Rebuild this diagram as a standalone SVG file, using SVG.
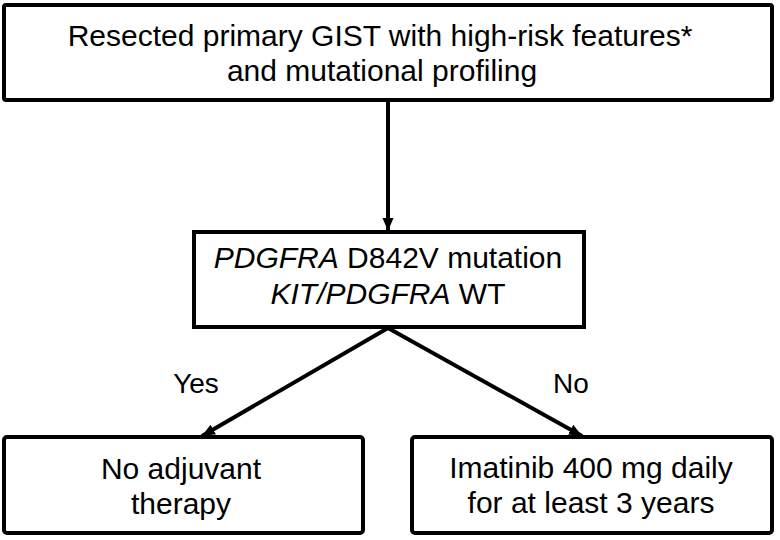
<svg xmlns="http://www.w3.org/2000/svg" width="780" height="540" viewBox="0 0 780 540">
<style>
.box{fill:#fff;stroke:#000;stroke-width:4}
.t{font-family:"Liberation Sans",Arial,sans-serif;font-size:30px;fill:#000;text-anchor:middle}
.i{font-style:italic}
.lbl{font-family:"Liberation Sans",Arial,sans-serif;font-size:28px;fill:#000;text-anchor:middle}
.c{stroke:#000;stroke-width:4;fill:none}
</style>
<defs>
<marker id="ah" markerUnits="userSpaceOnUse" markerWidth="14" markerHeight="14" viewBox="0 0 14 14" refX="13" refY="7" orient="auto">
<path d="M0,1.5 L13,7 L0,12.5 Z" fill="#000"/>
</marker>
</defs>
<rect width="780" height="540" fill="#fff"/>
<g id="connectors">
<line class="c" x1="388" y1="100" x2="388" y2="231" marker-end="url(#ah)"/>
<line class="c" x1="388" y1="328" x2="202" y2="436" marker-end="url(#ah)"/>
<line class="c" x1="388" y1="328" x2="582" y2="436" marker-end="url(#ah)"/>
</g>
<g id="n1">
<rect class="box" x="4" y="5" width="768" height="95" rx="2"/>
<text class="t" x="380" y="46">Resected primary GIST with high-risk features*</text>
<text class="t" x="382" y="81">and mutational profiling</text>
</g>
<g id="n2">
<rect class="box" x="194" y="232" width="390" height="95"/>
<text class="t" x="388" y="268"><tspan class="i">PDGFRA</tspan> D842V mutation</text>
<text class="t" x="388" y="304"><tspan class="i">KIT/PDGFRA</tspan> WT</text>
</g>
<g id="n3">
<rect class="box" x="4" y="437" width="359" height="96" rx="3"/>
<text class="t" x="181" y="479">No adjuvant</text>
<text class="t" x="181" y="514">therapy</text>
</g>
<g id="n4">
<rect class="box" x="412" y="437" width="360" height="96" rx="3"/>
<text class="t" x="591" y="478">Imatinib 400 mg daily</text>
<text class="t" x="591" y="513">for at least 3 years</text>
</g>
<text class="lbl" x="196" y="393">Yes</text>
<text class="lbl" x="571" y="393">No</text>
</svg>
